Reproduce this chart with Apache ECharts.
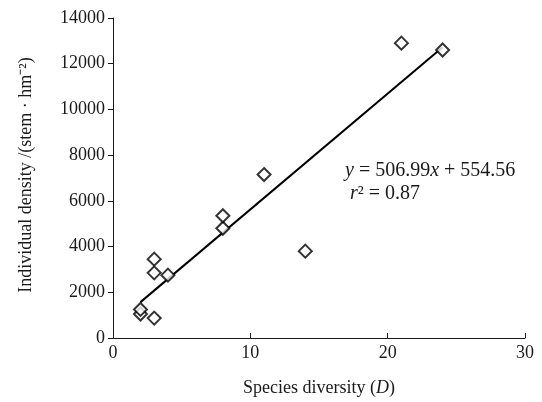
<!DOCTYPE html>
<html>
<head>
<meta charset="utf-8">
<script src="https://cdn.jsdelivr.net/npm/echarts@6/dist/echarts.min.js"></script>
<style>
  html, body { margin: 0; padding: 0; background: #fff; }
  #chart { width: 542px; height: 402px; }
</style>
</head>
<body>
<div id="chart"></div>
<script>
// observed plots: species diversity D vs individual density
const diversity = [2, 2, 3, 3, 3, 4, 8, 8, 11, 14, 21, 24];
const density = [1050, 1250, 870, 2850, 3450, 2750, 4800, 5350, 7150, 3800, 12900, 12600];

// fitted line end points
const fitX = [2, 24];
const fitY = [1570, 12720];

const xTicks = [0, 10, 20, 30];
const yTicks = [0, 2000, 4000, 6000, 8000, 10000, 12000, 14000];

const font = '"Liberation Serif", "Times New Roman", serif';
const ink = '#1a1a1a';

const chart = echarts.init(document.getElementById('chart'));
chart.setOption({
  animation: false,
  grid: { left: 113, right: 17, top: 18, bottom: 61 },
  xAxis: {
    type: 'value',
    min: xTicks[0],
    max: xTicks[xTicks.length - 1],
    interval: 10,
    name: 'Species diversity ({i|D})',
    nameLocation: 'middle',
    nameGap: 41,
    nameTextStyle: {
      fontFamily: font, fontSize: 18, color: ink,
      rich: { i: { fontFamily: font, fontSize: 18, fontStyle: 'italic', color: ink } }
    },
    axisLine: { lineStyle: { color: ink, width: 1 } },
    axisTick: { inside: true, length: 5, lineStyle: { color: ink } },
    axisLabel: { fontFamily: font, fontSize: 18, color: ink, margin: 6, formatter: v => String(v) },
    splitLine: { show: false }
  },
  yAxis: {
    type: 'value',
    min: yTicks[0],
    max: yTicks[yTicks.length - 1],
    interval: 2000,
    name: 'Individual density /(stem \u00b7 hm\u207b\u00b2)',
    nameLocation: 'middle',
    nameGap: 78,
    nameTextStyle: { fontFamily: font, fontSize: 18, color: ink, padding: [0, 0, 0, 6] },
    axisLine: { show: true, lineStyle: { color: ink, width: 1 } },
    axisTick: { show: true, length: 5, lineStyle: { color: ink } },
    axisLabel: { fontFamily: font, fontSize: 18, color: ink, margin: 8, formatter: v => String(v) },
    splitLine: { show: false }
  },
  graphic: [{
    type: 'text',
    left: 345,
    top: 159,
    style: {
      text: '{i|y} = 506.99{i|x} + 554.56\n {i|r}\u00b2 = 0.87',
      font: '20px ' + font,
      fill: ink,
      lineHeight: 23,
      rich: {
        i: { fontStyle: 'italic', fontFamily: font, fontSize: 20, fill: ink, lineHeight: 23 }
      }
    }
  }],
  series: [
    {
      type: 'line',
      data: fitX.map((x, i) => [x, fitY[i]]),
      showSymbol: false,
      lineStyle: { color: '#000', width: 2 },
      z: 2
    },
    {
      type: 'scatter',
      data: diversity.map((x, i) => [x, density[i]]),
      symbol: 'diamond',
      symbolSize: 13,
      itemStyle: { color: '#fff', borderColor: '#000', borderWidth: 2 },
      z: 3
    }
  ]
});
</script>
</body>
</html>
